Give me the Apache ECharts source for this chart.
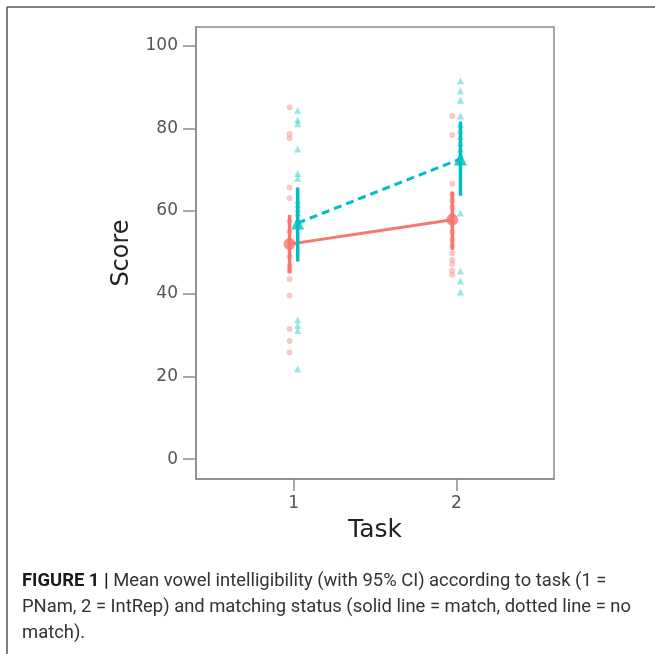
<!DOCTYPE html>
<html>
<head>
<meta charset="utf-8">
<script src="https://cdn.jsdelivr.net/npm/echarts@6/dist/echarts.min.js"></script>
<style>html,body{margin:0;padding:0;background:#fff}#c{width:655px;height:654px}</style>
</head>
<body>
<div id="c"></div>
<script>
// ---- data ----
var tasks = [1, 2];
var xTickLabels = ['1', '2'];
var yTickValues = [0, 20, 40, 60, 80, 100];

// raw scores, "match" group (red circles)
var matchTask1 = [85.1, 78.6, 77.6, 65.7, 63.1, 57.5, 55.0, 52.5, 49.0, 46.5, 45.5, 43.5, 39.6, 31.5, 28.6, 25.8];
var matchTask2 = [83.0, 78.4, 66.6, 64.0, 62.5, 61.0, 59.0, 57.5, 55.0, 53.0, 51.5, 49.8, 48.2, 47.2, 45.6, 44.6];
// raw scores, "no match" group (teal triangles)
var noMatchTask1 = [84.3, 82.0, 81.1, 75.0, 69.1, 67.9, 62.5, 61.5, 60.5, 59.5, 58.0, 33.7, 32.4, 31.1, 21.8];
var noMatchTask2 = [91.5, 89.0, 86.8, 83.0, 81.0, 79.5, 78.0, 76.5, 75.0, 73.5, 72.0, 59.5, 45.5, 43.1, 40.4];

// means and 95% CI per task
var matchMean = [52.0, 57.9];
var matchLow = [45.0, 50.6];
var matchHigh = [59.1, 64.7];
var noMatchMean = [57.1, 72.6];
var noMatchLow = [47.8, 63.7];
var noMatchHigh = [65.7, 81.6];

var captionLines = [
  '{b|FIGURE 1 |} Mean vowel intelligibility (with 95% CI) according to task (1 =',
  'PNam, 2 = IntRep) and matching status (solid line = match, dotted line = no',
  'match).'
];

// ---- build ----
var RED = '#F8766D', TEAL = '#00BFC4';
var dodge = 0.025;
function rawPoints(arrs, off) {
  var out = [];
  arrs.forEach(function (arr, i) {
    arr.forEach(function (v) { out.push([tasks[i] + off, v]); });
  });
  return out;
}
function meanPoints(m, off) { return m.map(function (v, i) { return [tasks[i] + off, v]; }); }
function ciPoints(lo, hi, off) { return lo.map(function (v, i) { return [tasks[i] + off, v, hi[i]]; }); }
function errRender(color) {
  return function (params, api) {
    var a = api.coord([api.value(0), api.value(1)]);
    var b = api.coord([api.value(0), api.value(2)]);
    return { type: 'line', shape: { x1: a[0], y1: a[1], x2: b[0], y2: b[1] },
      style: { stroke: color, lineWidth: 3.5 } };
  };
}

var chart = echarts.init(document.getElementById('c'), null, { renderer: 'canvas' });
var axisGray = '#8a8a8a';
var option = {
  animation: false,
  backgroundColor: '#fff',
  grid: { left: 196, top: 27, right: 101, bottom: 175, show: true, borderColor: axisGray, borderWidth: 1.5, backgroundColor: 'transparent' },
  xAxis: {
    type: 'value', min: 0.4, max: 2.6,
    name: 'Task', nameLocation: 'middle', nameGap: 39,
    nameTextStyle: { fontFamily: 'DejaVu Sans', fontSize: 25, color: '#222' },
    axisLine: { show: true, onZero: false, lineStyle: { color: axisGray, width: 1.5 } },
    axisTick: { show: true, length: 12, customValues: tasks, lineStyle: { color: axisGray, width: 1.5 } },
    axisLabel: { customValues: tasks, formatter: function (v) { return xTickLabels[tasks.indexOf(v)]; }, margin: 16, fontFamily: 'DejaVu Sans', fontSize: 17, color: '#555' },
    splitLine: { show: false }
  },
  yAxis: {
    type: 'value', min: -4.8, max: 104.5,
    name: 'Score', nameLocation: 'middle', nameGap: 62, nameRotate: 90,
    nameTextStyle: { fontFamily: 'DejaVu Sans', fontSize: 24, color: '#222' },
    axisLine: { show: true, onZero: false, lineStyle: { color: axisGray, width: 1.5 } },
    axisTick: { show: true, length: 13, customValues: yTickValues, lineStyle: { color: axisGray, width: 1.5 } },
    axisLabel: { customValues: yTickValues, margin: 18, fontFamily: 'DejaVu Sans', fontSize: 17, color: '#555' },
    splitLine: { show: false }
  },
  series: [
    { type: 'scatter', data: rawPoints([matchTask1, matchTask2], -dodge), symbol: 'circle', symbolSize: 6,
      itemStyle: { color: RED, opacity: 0.4 }, z: 2 },
    { type: 'scatter', data: rawPoints([noMatchTask1, noMatchTask2], dodge), symbol: 'triangle', symbolSize: 7,
      itemStyle: { color: TEAL, opacity: 0.4 }, z: 2 },
    { type: 'line', data: meanPoints(matchMean, -dodge), symbol: 'none', lineStyle: { color: RED, width: 3, type: 'solid' }, z: 3 },
    { type: 'line', data: meanPoints(noMatchMean, dodge), symbol: 'none', lineStyle: { color: TEAL, width: 3, type: [8, 5] }, z: 3 },
    { type: 'custom', data: ciPoints(matchLow, matchHigh, -dodge), renderItem: errRender(RED), z: 4 },
    { type: 'custom', data: ciPoints(noMatchLow, noMatchHigh, dodge), renderItem: errRender(TEAL), z: 4 },
    { type: 'scatter', data: meanPoints(matchMean, -dodge), symbol: 'circle', symbolSize: 12, itemStyle: { color: RED }, z: 5 },
    { type: 'scatter', data: meanPoints(noMatchMean, dodge), symbol: 'triangle', symbolSize: 13, itemStyle: { color: TEAL }, z: 5 }
  ],
  graphic: [
    { type: 'line', shape: { x1: 7, y1: 7, x2: 655, y2: 7 }, style: { stroke: '#555', lineWidth: 1.5 } },
    { type: 'line', shape: { x1: 7, y1: 7, x2: 7, y2: 654 }, style: { stroke: '#555', lineWidth: 1.5 } }
  ].concat(captionLines.map(function (t, i) {
    return { type: 'text', x: 22, y: 581 + i * 26,
      style: { text: t, fontFamily: 'Roboto', fontSize: 18.4, fill: '#333', verticalAlign: 'middle',
        rich: { b: { fontFamily: 'Roboto', fontSize: 18.4, fontWeight: 'bold', fill: '#1a1a1a' } } } };
  }))
};
chart.setOption(option);
</script>
</body>
</html>
